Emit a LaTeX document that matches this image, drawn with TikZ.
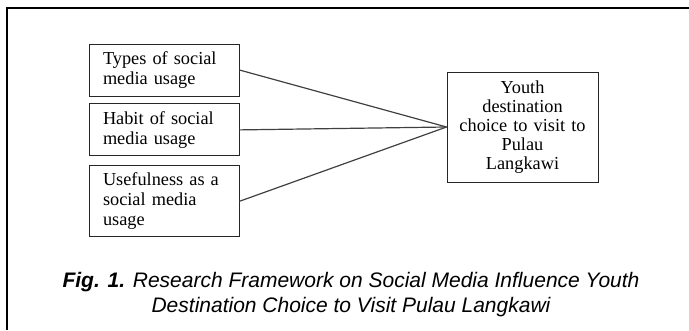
\documentclass[tikz,border=0pt]{standalone}
\usepackage{fontspec}
\setmainfont{Liberation Serif}
\newfontfamily\capfont{Liberation Sans}
\usetikzlibrary{
	positioning,
	calc
}

\begin{document}
\begin{tikzpicture}[x=1pt,y=1pt,
		factor/.style={draw=black!85, line width=.9pt, inner sep=0pt, minimum width=150pt, text width=122pt, align=left, font=\fontsize{18.3}{20}\selectfont},
		choice/.style={draw=black!85, line width=.9pt, inner sep=0pt, minimum width=151pt, minimum height=110pt, text width=140pt, align=center, font=\fontsize{18.3}{19}\selectfont},
		link/.style={draw=black!75, line width=1.2pt}]

		\useasboundingbox (0,0) rectangle (689,330);

		% frame, open to the right and below
		\draw[line width=2pt] (7,0) --++ (0,322) --++ (682,0);

		\node[factor, minimum height=52pt] (types) at (164,260) {Types of social\\media usage};
		\node[factor, minimum height=52pt, below=7pt of types] (habit) {Habit of social\\media usage};
		\node[factor, minimum height=71pt, below=9pt of habit] (useful) {Usefulness as a\\social media\\usage};

		\node[choice] (dest) at (522.5,203) {Youth\\destination\\choice to visit to\\Pulau\\Langkawi};

		\draw[link] (types.east) -- (dest.west);
		\draw[link] (habit.east) -- (dest.west);
		\draw[link] (useful.east) -- (dest.west);

		\node[align=center, font=\capfont\itshape\fontsize{21}{25}\selectfont] (caption) at (351,35) {\textbf{Fig. 1.} Research Framework on Social Media Influence Youth\\Destination Choice to Visit Pulau Langkawi};

	\end{tikzpicture}
\end{document}
